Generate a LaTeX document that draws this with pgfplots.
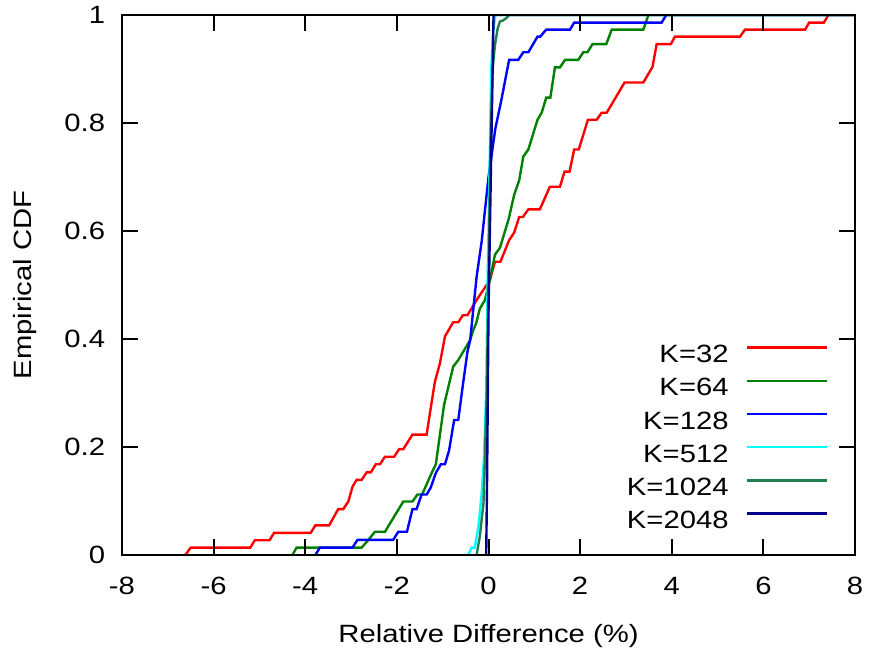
\documentclass[border=0pt]{standalone}
\usepackage{fontspec}
\setmainfont{Liberation Sans}[FakeStretch=1.17]
\usepackage{pgfplots}
\pgfplotsset{compat=1.18}
\definecolor{cK32}{RGB}{255,0,0}
\definecolor{cK64}{RGB}{0,128,0}
\definecolor{cK128}{RGB}{0,0,255}
\definecolor{cK512}{RGB}{0,255,255}
\definecolor{cK1024}{RGB}{32,128,80}
\definecolor{cK2048}{RGB}{0,0,139}
\begin{document}
\begin{tikzpicture}
\useasboundingbox (0,0) rectangle (434.5pt,329.5pt);
\begin{axis}[
  at={(61pt,52pt)}, anchor=south west,
  scale only axis, width=366.5pt, height=270pt,
  xmin=-8, xmax=8, ymin=0, ymax=1,
  axis on top,
  axis line style={line width=1.2pt},
  every tick/.style={black, line width=1pt},
  major tick length=8pt,
  tick align=inside,
  xtick={-8,-6,-4,-2,0,2,4,6,8},
  xticklabels={-8,-6,-4,-2,0,2,4,6,8},
  ytick={0,0.2,0.4,0.6,0.8,1},
  yticklabels={0,0.2,0.4,0.6,0.8,1},
  ticklabel style={font=\fontsize{12.5}{14}\selectfont},
  xticklabel style={anchor=north, inner sep=0pt, yshift=-11pt},
  yticklabel style={anchor=east, inner sep=0pt, xshift=-8.25pt},
  label style={font=\fontsize{12.5}{14}\selectfont},
  xlabel={Relative Difference (\%)},
  ylabel={Empirical CDF},
  xlabel style={at={(axis description cs:0.5,-0.15)}, anchor=center},
  ylabel style={at={(axis description cs:-0.1323,0.5)}, anchor=center},
  legend cell align=right,
  legend plot pos=right,
  legend image code/.code={\draw[#1] (0pt,3pt) -- (40pt,3pt);},
  legend style={at={(rel axis cs:0.9636,0.0487)}, anchor=south east,
    draw=none, fill=none, inner sep=0pt, outer sep=0pt,
    row sep=7.6pt, column sep=8.65pt,
    font=\fontsize{12.5}{14}\selectfont,
    nodes={inner sep=0pt, text height=9pt, text depth=0pt}},
  every axis plot/.append style={line width=1.2pt},
]
\addplot[cK32] coordinates {
(-6.62,0) (-6.5,0.0137) (-5.2,0.0137) (-5.1,0.0274) (-4.78,0.0274) (-4.68,0.0411)
(-3.88,0.0411) (-3.78,0.0548) (-3.48,0.0548) (-3.28,0.085) (-3.17,0.085) (-3.06,0.099)
(-2.97,0.126) (-2.88,0.139) (-2.77,0.139) (-2.66,0.153) (-2.57,0.153) (-2.46,0.168)
(-2.37,0.168) (-2.26,0.182) (-2.06,0.182) (-1.95,0.196) (-1.86,0.196) (-1.66,0.223)
(-1.35,0.223) (-1.28,0.262) (-1.17,0.321) (-1.06,0.355) (-0.95,0.405) (-0.77,0.431)
(-0.66,0.431) (-0.56,0.444) (-0.46,0.444) (-0.26,0.472) (-0.19,0.481) (0.03,0.509)
(0.14,0.543) (0.26,0.543) (0.45,0.583) (0.56,0.597) (0.67,0.626) (0.75,0.626)
(0.87,0.640) (1.12,0.640) (1.34,0.682) (1.56,0.682) (1.66,0.710) (1.77,0.710)
(1.87,0.751) (1.97,0.751) (2.17,0.806) (2.36,0.806) (2.47,0.819) (2.58,0.819)
(2.97,0.875) (3.38,0.875) (3.58,0.904) (3.67,0.946) (3.98,0.946) (4.07,0.960)
(5.49,0.960) (5.6,0.973) (6.91,0.973) (7.0,0.986) (7.32,0.986) (7.42,1) (8,1)
};
\addlegendentry{K=32}
\addplot[cK64] coordinates {
(-4.28,0) (-4.19,0.0137) (-2.77,0.0137) (-2.62,0.028) (-2.48,0.043) (-2.26,0.043)
(-1.86,0.099) (-1.66,0.099) (-1.55,0.112) (-1.45,0.112) (-1.24,0.152) (-1.15,0.168)
(-0.97,0.278) (-0.77,0.349) (-0.66,0.361) (-0.40,0.398) (-0.33,0.417) (-0.27,0.429)
(-0.19,0.456) (-0.08,0.472) (0.03,0.509) (0.14,0.556) (0.25,0.569) (0.44,0.622)
(0.56,0.667) (0.67,0.694) (0.76,0.738) (0.87,0.751) (1.07,0.806) (1.16,0.819)
(1.26,0.847) (1.35,0.847) (1.45,0.903) (1.56,0.903) (1.67,0.917) (1.96,0.917)
(2.07,0.931) (2.16,0.931) (2.27,0.946) (2.57,0.946) (2.69,0.973) (3.38,0.973)
(3.49,1) (8,1)
};
\addlegendentry{K=64}
\addplot[cK128] coordinates {
(-3.78,0) (-3.68,0.0137) (-2.97,0.0137) (-2.86,0.028) (-2.08,0.028) (-1.97,0.043)
(-1.78,0.043) (-1.66,0.085) (-1.57,0.085) (-1.46,0.112) (-1.35,0.112) (-1.26,0.125)
(-1.15,0.152) (-1.04,0.168) (-0.95,0.168) (-0.86,0.194) (-0.75,0.25) (-0.66,0.25)
(-0.55,0.321) (-0.46,0.376) (-0.40,0.398) (-0.32,0.465) (-0.26,0.515) (-0.15,0.58)
(0,0.70) (0.15,0.79) (0.27,0.838) (0.45,0.917) (0.65,0.917) (0.76,0.931)
(0.87,0.931) (1.07,0.96) (1.13,0.96) (1.26,0.973) (1.78,0.973) (1.87,0.986)
(3.78,0.986) (3.88,1) (8,1)
};
\addlegendentry{K=128}
\addplot[cK512] coordinates {
(-0.44,0) (-0.37,0.0137) (-0.30,0.0137) (-0.22,0.052) (-0.15,0.113) (-0.10,0.176)
(-0.05,0.3) (-0.02,0.5) (0.02,0.7) (0.06,0.9) (0.1,0.97) (0.15,1) (8,1)
};
\addlegendentry{K=512}
\addplot[cK1024] coordinates {
(-0.26,0) (-0.19,0.034) (-0.11,0.096) (-0.08,0.176) (-0.04,0.3) (0.0,0.5)
(0.04,0.75) (0.09,0.9) (0.14,0.944) (0.2,0.975) (0.25,0.988) (0.32,0.99)
(0.40,0.995) (0.45,1) (8,1)
};
\addlegendentry{K=1024}
\addplot[cK2048] coordinates {
(-0.05,0) (-0.03,0.15) (0.0,0.45) (0.04,0.65) (0.08,0.85) (0.11,1) (8,1)
};
\addlegendentry{K=2048}
\end{axis}
\end{tikzpicture}
\end{document}
